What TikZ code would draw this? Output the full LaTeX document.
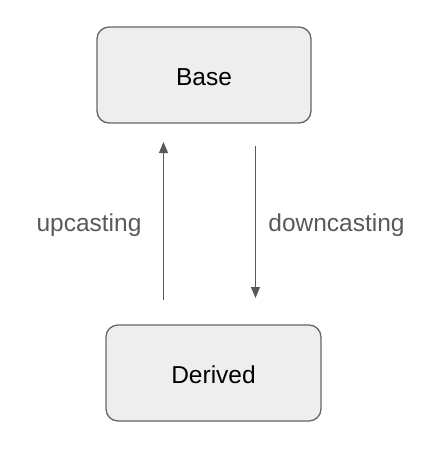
\documentclass[tikz,border=0pt]{standalone}
\usepackage{fontspec}
\setmainfont{Liberation Sans}
\usepackage{tikz}
\usetikzlibrary{arrows.meta}

\begin{document}
\begin{tikzpicture}[x=1pt,y=-1pt,line cap=rect]
	\definecolor{custcol_ee_ee_ee}{RGB}{238, 238, 238}
	\definecolor{custcol_66_66_66}{RGB}{102, 102, 102}
	\definecolor{custcol_59_59_59}{RGB}{89, 89, 89}
	\tikzset{classbox/.style={draw=custcol_66_66_66, fill=custcol_ee_ee_ee, line width=1.3pt, rounded corners=12pt, minimum width=214pt, minimum height=96pt, inner sep=0, text height=20pt, text depth=0pt, font=\fontsize{24.5pt}{28pt}\selectfont},
		castarrow/.style={draw=custcol_59_59_59, line width=1.2pt, line cap=butt, -{Triangle[length=11pt,width=9pt]}},
		castlabel/.style={inner sep=0, text=custcol_59_59_59, font=\fontsize{24.5pt}{28pt}\selectfont}}
	\useasboundingbox (0.0,0.0) rectangle (435.0,458.0);
	\node[classbox] (base) at (204.0,75.0) {Base};
	\node[classbox, minimum width=215pt] (derived) at (213.5,373.0) {Derived};
	\coordinate (upfrom) at (163.5,300.0);
	\coordinate (upto) at (163.5,142.0);
	\coordinate (downfrom) at (255.5,146.0);
	\coordinate (downto) at (255.5,298.0);
	\draw[castarrow] (upfrom) -- (upto);
	\draw[castarrow] (downfrom) -- (downto);
	\node[castlabel] (uplabel) at (89.0,225.0) {upcasting};
	\node[castlabel] (downlabel) at (336.5,225.0) {downcasting};
\end{tikzpicture}
\end{document}
